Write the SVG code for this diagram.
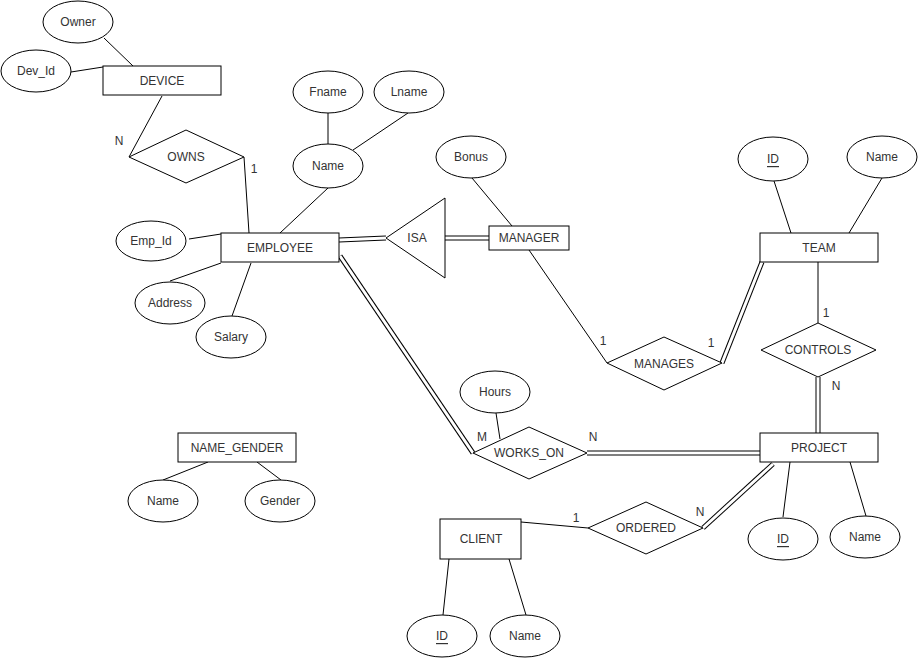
<svg xmlns="http://www.w3.org/2000/svg" width="918" height="658" viewBox="0 0 918 658">
<style>
  .shape { fill: #ffffff; stroke: #000000; stroke-width: 1; }
  .ln { fill: none; stroke: #000000; stroke-width: 1; }
  .dbl-outer { fill: none; stroke: #000000; stroke-width: 5; }
  .dbl-inner { fill: none; stroke: #ffffff; stroke-width: 3; }
  text { font-family: "Liberation Sans", Arial, Helvetica, sans-serif; font-size: 12px; fill: #333333; text-anchor: middle; dominant-baseline: central; }
  .u { text-decoration: underline; }
  .card { text-anchor: start; }
</style>
<rect x="0" y="0" width="918" height="658" fill="#ffffff"/>

<g id="connectors">
  <!-- single lines -->
  <line class="ln" x1="104" y1="38" x2="133" y2="66"/>
  <line class="ln" x1="71" y1="72" x2="103" y2="67"/>
  <line class="ln" x1="162" y1="96" x2="129" y2="157"/>
  <line class="ln" x1="244" y1="157" x2="249" y2="233"/>
  <line class="ln" x1="189" y1="239" x2="221" y2="234"/>
  <line class="ln" x1="170" y1="281" x2="221" y2="263"/>
  <line class="ln" x1="232" y1="316" x2="251" y2="263"/>
  <line class="ln" x1="280" y1="233" x2="328" y2="188"/>
  <line class="ln" x1="328" y1="113" x2="328" y2="144"/>
  <line class="ln" x1="408" y1="113" x2="353" y2="150"/>
  <line class="ln" x1="472" y1="178" x2="512" y2="226"/>
  <line class="ln" x1="529" y1="250" x2="607" y2="363"/>
  <line class="ln" x1="774" y1="181" x2="791" y2="233"/>
  <line class="ln" x1="882" y1="178" x2="849" y2="233"/>
  <line class="ln" x1="818" y1="262" x2="818" y2="323"/>
  <line class="ln" x1="496" y1="413" x2="500" y2="439"/>
  <line class="ln" x1="521" y1="522" x2="588" y2="528"/>
  <line class="ln" x1="783" y1="517" x2="790" y2="462"/>
  <line class="ln" x1="866" y1="516" x2="850" y2="462"/>
  <line class="ln" x1="443" y1="615" x2="449" y2="559"/>
  <line class="ln" x1="526" y1="615" x2="509" y2="559"/>
  <line class="ln" x1="163" y1="480" x2="208" y2="462"/>
  <line class="ln" x1="281" y1="480" x2="257" y2="462"/>

  <!-- double lines (total participation) -->
  <line class="dbl-outer" x1="339" y1="240" x2="386" y2="238"/>
  <line class="dbl-inner" x1="339" y1="240" x2="386" y2="238"/>
  <line class="dbl-outer" x1="445" y1="238" x2="489" y2="238"/>
  <line class="dbl-inner" x1="445" y1="238" x2="489" y2="238"/>
  <line class="dbl-outer" x1="722" y1="363" x2="762" y2="262"/>
  <line class="dbl-inner" x1="722" y1="363" x2="762" y2="262"/>
  <line class="dbl-outer" x1="818" y1="377" x2="818" y2="433"/>
  <line class="dbl-inner" x1="818" y1="377" x2="818" y2="433"/>
  <line class="dbl-outer" x1="340" y1="256" x2="473" y2="453"/>
  <line class="dbl-inner" x1="340" y1="256" x2="473" y2="453"/>
  <line class="dbl-outer" x1="587" y1="453" x2="760" y2="453"/>
  <line class="dbl-inner" x1="587" y1="453" x2="760" y2="453"/>
  <line class="dbl-outer" x1="703" y1="528" x2="773" y2="464"/>
  <line class="dbl-inner" x1="703" y1="528" x2="773" y2="464"/>

  <!-- cardinality labels -->
  <text x="119" y="141">N</text>
  <text x="254" y="169">1</text>
  <text x="603" y="341">1</text>
  <text x="711" y="343">1</text>
  <text x="826" y="313">1</text>
  <text x="836" y="386">N</text>
  <text x="482" y="437">M</text>
  <text x="593" y="437">N</text>
  <text x="576" y="518">1</text>
  <text x="700" y="512">N</text>
</g>

<g id="owner"><ellipse class="shape" cx="78" cy="22" rx="35" ry="21"/><text x="78" y="22">Owner</text></g>
<g id="dev_id"><ellipse class="shape" cx="36" cy="71" rx="35" ry="21"/><text x="36" y="71">Dev_Id</text></g>
<g id="device"><rect class="shape" x="103" y="66" width="118" height="29"/><text x="162" y="81">DEVICE</text></g>
<g id="owns"><polygon class="shape" points="129,157 186,130 244,157 186,183"/><text x="186" y="157">OWNS</text></g>

<g id="fname"><ellipse class="shape" cx="328" cy="92" rx="35" ry="21"/><text x="328" y="92">Fname</text></g>
<g id="lname"><ellipse class="shape" cx="409" cy="92" rx="35" ry="21"/><text x="409" y="92">Lname</text></g>
<g id="name"><ellipse class="shape" cx="328" cy="166" rx="35" ry="22"/><text x="328" y="166">Name</text></g>
<g id="bonus"><ellipse class="shape" cx="471" cy="157" rx="35" ry="21"/><text x="471" y="157">Bonus</text></g>

<g id="emp_id"><ellipse class="shape" cx="151" cy="241" rx="35" ry="20"/><text x="151" y="241">Emp_Id</text></g>
<g id="address"><ellipse class="shape" cx="170" cy="303" rx="35" ry="21"/><text x="170" y="303">Address</text></g>
<g id="salary"><ellipse class="shape" cx="231" cy="337" rx="35" ry="21"/><text x="231" y="337">Salary</text></g>
<g id="employee"><rect class="shape" x="221" y="233" width="118" height="29"/><text x="280" y="248">EMPLOYEE</text></g>

<g id="isa"><polygon class="shape" points="386,238 445,198 445,278"/><text x="417" y="238">ISA</text></g>
<g id="manager"><rect class="shape" x="489" y="226" width="80" height="24"/><text x="529" y="238">MANAGER</text></g>
<g id="manages"><polygon class="shape" points="607,363 664,337 722,363 664,390"/><text x="664" y="364">MANAGES</text></g>

<g id="team_id"><ellipse class="shape" cx="773" cy="159" rx="35" ry="22"/><text class="u" x="773" y="159">ID</text></g>
<g id="team_name"><ellipse class="shape" cx="882" cy="157" rx="35" ry="21"/><text x="882" y="157">Name</text></g>
<g id="team"><rect class="shape" x="760" y="233" width="118" height="29"/><text x="819" y="248">TEAM</text></g>
<g id="controls"><polygon class="shape" points="761,350 818,323 876,350 818,377"/><text x="818" y="350">CONTROLS</text></g>
<g id="project"><rect class="shape" x="760" y="433" width="118" height="29"/><text x="819" y="448">PROJECT</text></g>
<g id="project_id"><ellipse class="shape" cx="783" cy="539" rx="35" ry="21"/><text class="u" x="783" y="539">ID</text></g>
<g id="project_name"><ellipse class="shape" cx="865" cy="537" rx="35" ry="21"/><text x="865" y="537">Name</text></g>

<g id="hours"><ellipse class="shape" cx="495" cy="392" rx="35" ry="21"/><text x="495" y="392">Hours</text></g>
<g id="works_on"><polygon class="shape" points="473,453 529,427 587,453 529,479"/><text x="529" y="453">WORKS_ON</text></g>

<g id="ordered"><polygon class="shape" points="588,528 646,502 703,528 646,554"/><text x="646" y="528">ORDERED</text></g>
<g id="client"><rect class="shape" x="440" y="519" width="81" height="40"/><text x="481" y="539">CLIENT</text></g>
<g id="client_id"><ellipse class="shape" cx="442" cy="636" rx="35" ry="21"/><text class="u" x="442" y="636">ID</text></g>
<g id="client_name"><ellipse class="shape" cx="525" cy="636" rx="35" ry="21"/><text x="525" y="636">Name</text></g>

<g id="name_gender"><rect class="shape" x="178" y="433" width="118" height="29"/><text x="237" y="448">NAME_GENDER</text></g>
<g id="ng_name"><ellipse class="shape" cx="163" cy="501" rx="35" ry="21"/><text x="163" y="501">Name</text></g>
<g id="ng_gender"><ellipse class="shape" cx="280" cy="501" rx="35" ry="21"/><text x="280" y="501">Gender</text></g>
</svg>
